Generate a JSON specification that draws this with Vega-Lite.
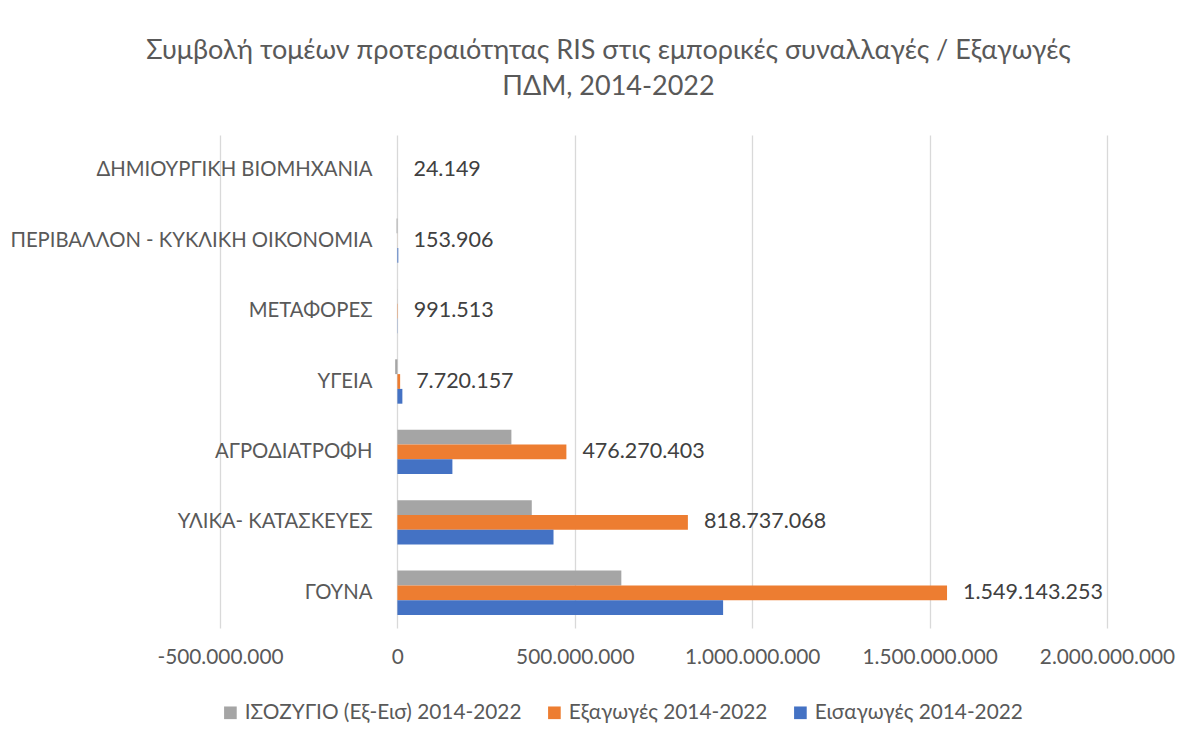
{
  "$schema": "https://vega.github.io/schema/vega-lite/v6.json",
  "width": 887,
  "height": 493,
  "autosize": {"type": "none"},
  "padding": {"left": 220, "top": 135, "right": 89, "bottom": 116},
  "background": "white",
  "title": {
    "text": ["Συμβολή τομέων προτεραιότητας RIS στις εμπορικές συναλλαγές / Εξαγωγές", "ΠΔΜ, 2014-2022"],
    "anchor": "middle",
    "dx": -55,
    "offset": 34,
    "fontSize": 27,
    "lineHeight": 36,
    "font": "Lato, Noto Sans",
    "fontWeight": "normal",
    "color": "#595959"
  },
  "data": {
    "values": [
      {"sector": "ΔΗΜΙΟΥΡΓΙΚΗ ΒΙΟΜΗΧΑΝΙΑ", "series": "ΙΣΟΖΥΓΙΟ (Εξ-Εισ) 2014-2022", "value": -75851},
      {"sector": "ΔΗΜΙΟΥΡΓΙΚΗ ΒΙΟΜΗΧΑΝΙΑ", "series": "Εξαγωγές 2014-2022", "value": 24149},
      {"sector": "ΔΗΜΙΟΥΡΓΙΚΗ ΒΙΟΜΗΧΑΝΙΑ", "series": "Εισαγωγές 2014-2022", "value": 100000},
      {"sector": "ΠΕΡΙΒΑΛΛΟΝ - ΚΥΚΛΙΚΗ ΟΙΚΟΝΟΜΙΑ", "series": "ΙΣΟΖΥΓΙΟ (Εξ-Εισ) 2014-2022", "value": -2346094},
      {"sector": "ΠΕΡΙΒΑΛΛΟΝ - ΚΥΚΛΙΚΗ ΟΙΚΟΝΟΜΙΑ", "series": "Εξαγωγές 2014-2022", "value": 153906},
      {"sector": "ΠΕΡΙΒΑΛΛΟΝ - ΚΥΚΛΙΚΗ ΟΙΚΟΝΟΜΙΑ", "series": "Εισαγωγές 2014-2022", "value": 2500000},
      {"sector": "ΜΕΤΑΦΟΡΕΣ", "series": "ΙΣΟΖΥΓΙΟ (Εξ-Εισ) 2014-2022", "value": 391513},
      {"sector": "ΜΕΤΑΦΟΡΕΣ", "series": "Εξαγωγές 2014-2022", "value": 991513},
      {"sector": "ΜΕΤΑΦΟΡΕΣ", "series": "Εισαγωγές 2014-2022", "value": 600000},
      {"sector": "ΥΓΕΙΑ", "series": "ΙΣΟΖΥΓΙΟ (Εξ-Εισ) 2014-2022", "value": -6300000},
      {"sector": "ΥΓΕΙΑ", "series": "Εξαγωγές 2014-2022", "value": 7720157},
      {"sector": "ΥΓΕΙΑ", "series": "Εισαγωγές 2014-2022", "value": 14000000},
      {"sector": "ΑΓΡΟΔΙΑΤΡΟΦΗ", "series": "ΙΣΟΖΥΓΙΟ (Εξ-Εισ) 2014-2022", "value": 321270403},
      {"sector": "ΑΓΡΟΔΙΑΤΡΟΦΗ", "series": "Εξαγωγές 2014-2022", "value": 476270403},
      {"sector": "ΑΓΡΟΔΙΑΤΡΟΦΗ", "series": "Εισαγωγές 2014-2022", "value": 155000000},
      {"sector": "ΥΛΙΚΑ- ΚΑΤΑΣΚΕΥΕΣ", "series": "ΙΣΟΖΥΓΙΟ (Εξ-Εισ) 2014-2022", "value": 378737068},
      {"sector": "ΥΛΙΚΑ- ΚΑΤΑΣΚΕΥΕΣ", "series": "Εξαγωγές 2014-2022", "value": 818737068},
      {"sector": "ΥΛΙΚΑ- ΚΑΤΑΣΚΕΥΕΣ", "series": "Εισαγωγές 2014-2022", "value": 440000000},
      {"sector": "ΓΟΥΝΑ", "series": "ΙΣΟΖΥΓΙΟ (Εξ-Εισ) 2014-2022", "value": 631143253},
      {"sector": "ΓΟΥΝΑ", "series": "Εξαγωγές 2014-2022", "value": 1549143253},
      {"sector": "ΓΟΥΝΑ", "series": "Εισαγωγές 2014-2022", "value": 918000000}
    ]
  },
  "encoding": {
    "y": {
      "field": "sector",
      "type": "nominal",
      "sort": ["ΔΗΜΙΟΥΡΓΙΚΗ ΒΙΟΜΗΧΑΝΙΑ", "ΠΕΡΙΒΑΛΛΟΝ - ΚΥΚΛΙΚΗ ΟΙΚΟΝΟΜΙΑ", "ΜΕΤΑΦΟΡΕΣ", "ΥΓΕΙΑ", "ΑΓΡΟΔΙΑΤΡΟΦΗ", "ΥΛΙΚΑ- ΚΑΤΑΣΚΕΥΕΣ", "ΓΟΥΝΑ"],
      "scale": {"paddingInner": 0.37, "paddingOuter": 0.185},
      "axis": {
        "title": null,
        "offset": -177,
        "ticks": false,
        "domain": false,
        "grid": false,
        "labelPadding": 25,
        "labelFontSize": 20.3,
        "labelFont": "Lato, Noto Sans",
        "labelColor": "#595959",
        "labelLimit": 500
      }
    },
    "yOffset": {
      "field": "series",
      "type": "nominal",
      "sort": ["ΙΣΟΖΥΓΙΟ (Εξ-Εισ) 2014-2022", "Εξαγωγές 2014-2022", "Εισαγωγές 2014-2022"],
      "scale": {"domain": ["ΙΣΟΖΥΓΙΟ (Εξ-Εισ) 2014-2022", "Εξαγωγές 2014-2022", "Εισαγωγές 2014-2022"], "paddingInner": 0, "paddingOuter": 0}
    },
    "x": {
      "field": "value",
      "type": "quantitative",
      "scale": {"domain": [-500000000, 2000000000], "nice": false, "zero": false},
      "axis": {
        "title": null,
        "values": [-500000000, 0, 500000000, 1000000000, 1500000000, 2000000000],
        "format": ",.0f",
        "domain": false,
        "ticks": false,
        "grid": true,
        "gridColor": "#d9d9d9",
        "gridWidth": 1.3,
        "labelFlush": false,
        "labelPadding": 19,
        "labelFontSize": 20.8,
        "labelFont": "Lato, Noto Sans",
        "labelColor": "#595959"
      }
    }
  },
  "layer": [
    {
      "mark": {"type": "bar"},
      "encoding": {
        "color": {
          "field": "series",
          "type": "nominal",
          "scale": {
            "domain": ["ΙΣΟΖΥΓΙΟ (Εξ-Εισ) 2014-2022", "Εξαγωγές 2014-2022", "Εισαγωγές 2014-2022"],
            "range": ["#A5A5A5", "#ED7D31", "#4472C4"]
          },
          "legend": {
            "title": null,
            "orient": "bottom",
            "direction": "horizontal",
            "symbolType": "square",
            "symbolSize": 160,
            "symbolStrokeWidth": 0,
            "labelFontSize": 20.8,
            "labelFont": "Lato, Noto Sans",
            "labelColor": "#595959",
            "labelLimit": 400,
            "columnPadding": 22,
            "offset": 35
          }
        }
      }
    },
    {
      "transform": [{"filter": "datum.series === 'Εξαγωγές 2014-2022'"}],
      "mark": {"type": "text", "align": "left", "baseline": "middle", "dx": 16, "fontSize": 21.5, "font": "Lato, Noto Sans", "color": "#404040"},
      "encoding": {
        "text": {"field": "value", "type": "quantitative", "format": ",.0f"}
      }
    }
  ],
  "config": {
    "view": {"stroke": null},
    "locale": {
      "number": {"decimal": ",", "thousands": ".", "grouping": [3], "currency": ["", " €"], "minus": "-"}
    }
  }
}
